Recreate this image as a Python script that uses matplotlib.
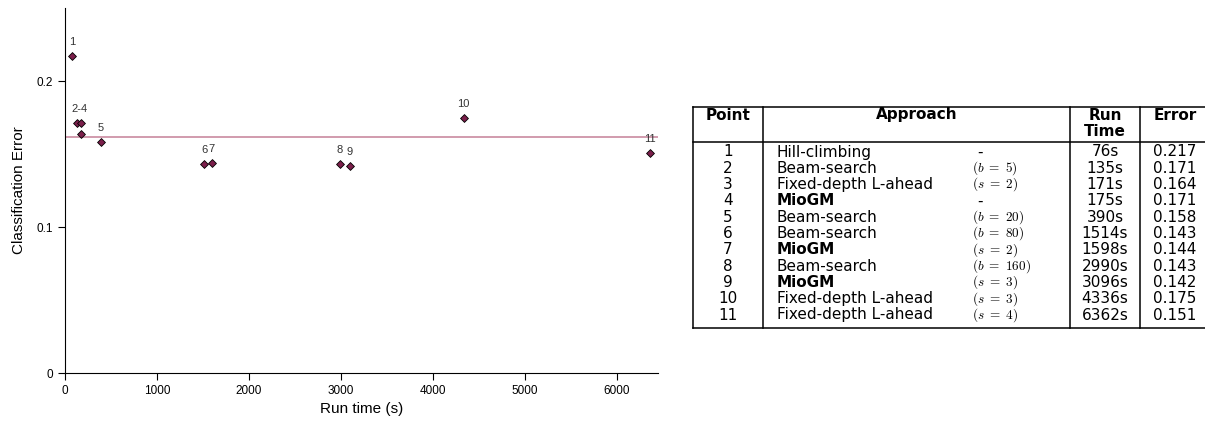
import matplotlib.pyplot as plt

plt.rcParams['mathtext.fontset'] = 'cm'

# data
points = [1, 2, 3, 4, 5, 6, 7, 8, 9, 10, 11]
approach = ['Hill-climbing', 'Beam-search', 'Fixed-depth L-ahead', 'MioGM', 'Beam-search',
            'Beam-search', 'MioGM', 'Beam-search', 'MioGM', 'Fixed-depth L-ahead',
            'Fixed-depth L-ahead']
params = ['-', '(b = 5)', '(s = 2)', '-', '(b = 20)', '(b = 80)', '(s = 2)',
          '(b = 160)', '(s = 3)', '(s = 3)', '(s = 4)']
run_time = [76, 135, 171, 175, 390, 1514, 1598, 2990, 3096, 4336, 6362]
error = [0.217, 0.171, 0.164, 0.171, 0.158, 0.143, 0.144, 0.143, 0.142, 0.175, 0.151]
point_labels = ['1', '', '', '', '5', '6', '7', '8', '9', '10', '11']
group_label = '2-4'
baseline = 0.1615

fig = plt.figure(figsize=(12.05, 4.22), dpi=100)
ax = fig.add_axes([0.054, 0.116, 0.492, 0.865])

ax.axhline(baseline, color='#c98aa0', lw=1.2, zorder=1)
ax.scatter(run_time, error, marker='D', s=16, color='#7b1f4b', edgecolors='black',
           linewidths=0.6, zorder=3)

for x, y, lab in zip(run_time, error, point_labels):
    if lab:
        ax.annotate(lab, (x, y), xytext=(0, 10), textcoords='offset points',
                    ha='center', va='center', fontsize=8, color='#333333',
                    family='Liberation Sans')
gx = sum(run_time[1:4]) / 3
ax.annotate(group_label, (gx, error[1]), xytext=(0, 10), textcoords='offset points',
            ha='center', va='center', fontsize=8, color='#333333', family='Liberation Sans')

ax.set_xlim(0, 6450)
ax.set_ylim(0, 0.25)
ax.set_xticks([0, 1000, 2000, 3000, 4000, 5000, 6000])
ax.set_yticks([0, 0.1, 0.2])
ax.set_yticklabels(['0', '0.1', '0.2'])
for s in ['top', 'right']:
    ax.spines[s].set_visible(False)
ax.tick_params(direction='out', length=5, labelsize=8.5)
for t in ax.get_xticklabels() + ax.get_yticklabels():
    t.set_family('Liberation Sans')
ax.set_xlabel('Run time (s)', fontsize=11, family='Liberation Sans', labelpad=4)
ax.set_ylabel('Classification Error', fontsize=11, family='Liberation Sans', labelpad=8)

# table drawn in pixel coordinates
tb = fig.add_axes([0, 0, 1, 1])
tb.set_xlim(0, 1205)
tb.set_ylim(422, 0)
tb.axis('off')
left, c1, c2, c3, right = 693, 763, 1070, 1140, 1205
top, hsep, bottom = 107, 142, 328
lk = dict(color='black', lw=1.1)
tb.plot([left, right], [top, top], **lk)
tb.plot([left, right], [hsep, hsep], **lk)
tb.plot([left, right], [bottom, bottom], **lk)
for xv in [left, c1, c2, c3]:
    tb.plot([xv, xv], [top, bottom], **lk)

fs = 11
ff = 'DejaVu Sans'
run_x = (c2 + c3) / 2
err_x = 1175
tb.text((left + c1) / 2, 115, 'Point', ha='center', va='center', fontsize=fs, weight='bold', family=ff)
tb.text((c1 + c2) / 2, 115, 'Approach', ha='center', va='center', fontsize=fs, weight='bold', family=ff)
tb.text(run_x, 115, 'Run', ha='center', va='center', fontsize=fs, weight='bold', family=ff)
tb.text(run_x, 131, 'Time', ha='center', va='center', fontsize=fs, weight='bold', family=ff)
tb.text(err_x, 115, 'Error', ha='center', va='center', fontsize=fs, weight='bold', family=ff)

for i in range(len(points)):
    y = 152 + i * 16.3
    tb.text((left + c1) / 2, y, str(points[i]), ha='center', va='center', fontsize=fs, family=ff)
    bold = 'bold' if approach[i] == 'MioGM' else 'normal'
    tb.text(777, y, approach[i], ha='left', va='center', fontsize=fs, weight=bold, family=ff)
    if params[i] == '-':
        tb.text(980, y, '-', ha='center', va='center', fontsize=fs, family=ff)
    else:
        math = '$' + params[i].replace(' = ', r'\ =\ ') + '$'
        tb.text(972, y, math, ha='left', va='center', fontsize=9.5, family=ff)
    tb.text(run_x, y, f'{run_time[i]}s', ha='center', va='center', fontsize=fs, family=ff)
    tb.text(err_x, y, f'{error[i]:.3f}', ha='center', va='center', fontsize=fs, family=ff)

fig.savefig('out.png', dpi=100)
